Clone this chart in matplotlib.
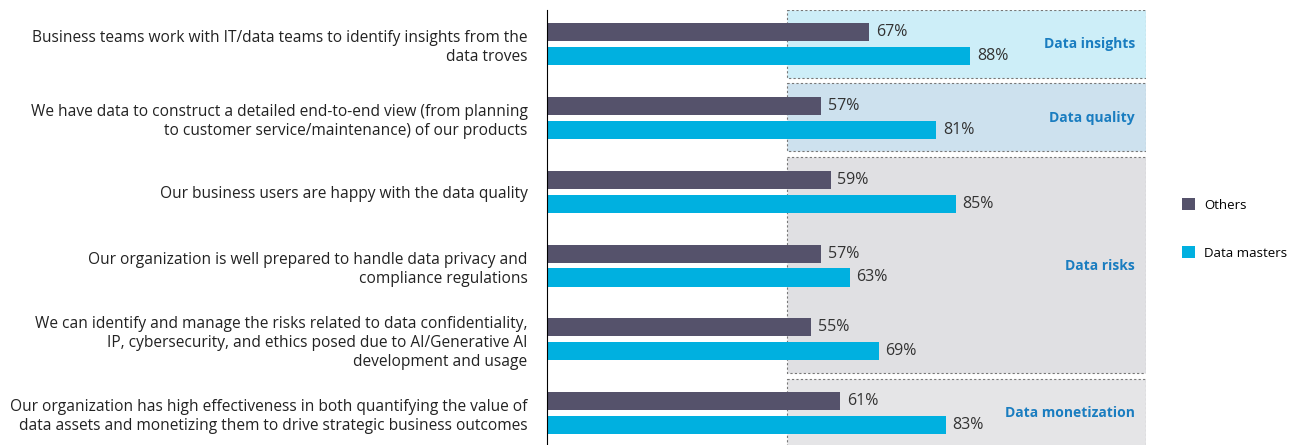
import matplotlib.pyplot as plt
from matplotlib.patches import Rectangle

plt.rcParams['font.family'] = ['Open Sans', 'DejaVu Sans']

# Données
questions = [
    "Business teams work with IT/data teams to identify insights from the\ndata troves",
    "We have data to construct a detailed end-to-end view (from planning\nto customer service/maintenance) of our products",
    "Our business users are happy with the data quality",
    "Our organization is well prepared to handle data privacy and\ncompliance regulations",
    "We can identify and manage the risks related to data confidentiality,\nIP, cybersecurity, and ethics posed due to AI/Generative AI\ndevelopment and usage",
    "Our organization has high effectiveness in both quantifying the value of\ndata assets and monetizing them to drive strategic business outcomes",
]
others = [67, 57, 59, 57, 55, 61]
masters = [88, 81, 85, 63, 69, 83]

# Groupes thématiques : (nom, premier index, dernier index, couleur de fond)
groupes = [
    ("Data insights", 0, 0, "#CDEEF8"),
    ("Data quality", 1, 1, "#CDE1EE"),
    ("Data risks", 2, 4, "#E0E0E3"),
    ("Data monetization", 5, 5, "#E5E5E7"),
]

c_others = "#55526B"
c_masters = "#00B0E0"
c_label = "#1A7DC0"

fig = plt.figure(figsize=(12.92, 4.45), dpi=100)
ax = fig.add_axes([547 / 1292, 0, (1146 - 547) / 1292, 1 - 10 / 445])

y = list(range(len(questions)))
off = 0.162
h = 0.245

# Cadres en pointillés derrière les barres
for nom, i0, i1, couleur in groupes:
    rect = Rectangle((50, i0 - 0.465), 74.6, (i1 - i0) + 0.92,
                     facecolor=couleur, edgecolor="#777777", linestyle=(0, (2, 2)),
                     linewidth=0.8, zorder=0)
    ax.add_patch(rect)
    ax.text(122.3, (i0 + i1) / 2, nom, ha="right", va="center",
            fontsize=10, fontweight="bold", color=c_label, zorder=3)

b1 = ax.barh([v - off for v in y], others, height=h, color=c_others, label="Others", zorder=2)
b2 = ax.barh([v + off for v in y], masters, height=h, color=c_masters, label="Data masters", zorder=2)

for i in y:
    ax.text(others[i] + 1.4, i - off, f"{others[i]}%", va="center", ha="left",
            fontsize=11.5, color="#333333", zorder=3)
    ax.text(masters[i] + 1.4, i + off, f"{masters[i]}%", va="center", ha="left",
            fontsize=11.5, color="#333333", zorder=3)

ax.set_xlim(0, 124.6)
ax.set_ylim(5.43, -0.46)
ax.set_yticks(y)
ax.set_yticklabels(questions, fontsize=11.2, color="#222222", linespacing=1.25)
ax.tick_params(axis="y", length=0, pad=14)
ax.set_xticks([])
for s in ["top", "right", "bottom"]:
    ax.spines[s].set_visible(False)
ax.spines["left"].set_linewidth(0.8)
ax.set_facecolor("none")

fig.legend(handles=[b1, b2], loc="center left", bbox_to_anchor=(1170 / 1292, 1 - 229 / 445),
           frameon=False, fontsize=9.5, labelspacing=2.6, handlelength=1.0, handleheight=1.0,
           handletextpad=0.7)

fig.savefig("out.png", dpi=100)
